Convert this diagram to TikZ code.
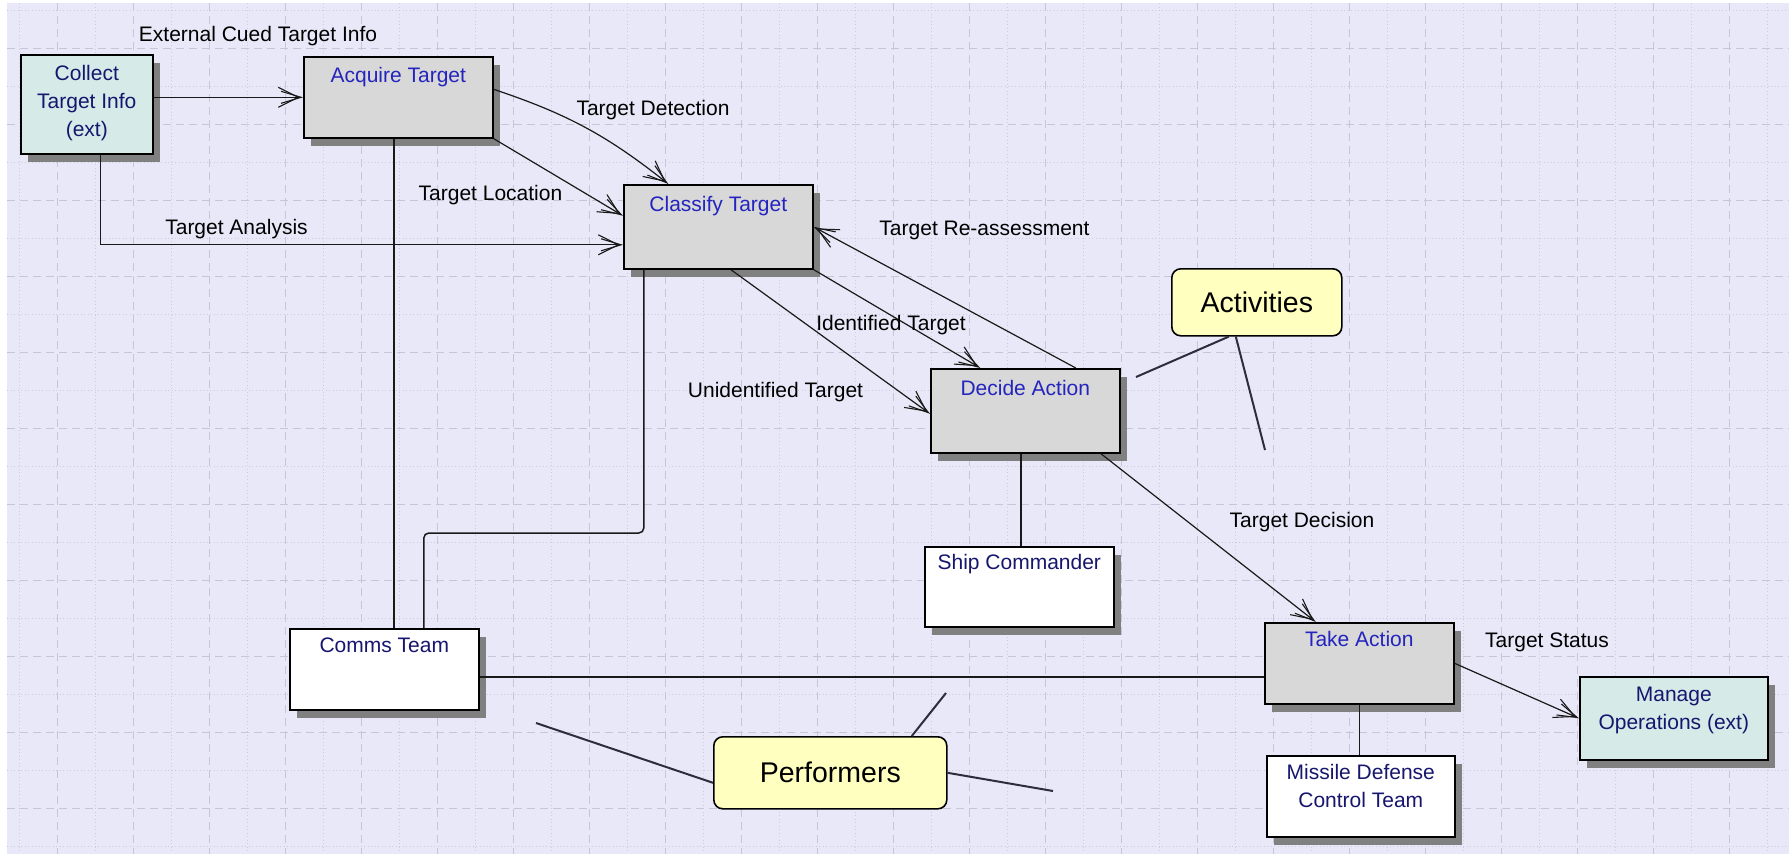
\documentclass[tikz,border=0pt]{standalone}
\usepackage{fontspec}
\setmainfont{Liberation Sans}
\usetikzlibrary{arrows.meta,shadows}
\definecolor{bg}{RGB}{232,232,248}
\definecolor{gridc}{RGB}{198,198,216}
\definecolor{gridd}{RGB}{204,204,222}
\definecolor{actfill}{RGB}{216,216,216}
\definecolor{extfill}{RGB}{214,234,232}
\definecolor{shadowc}{RGB}{128,128,128}
\definecolor{actblue}{RGB}{36,36,190}
\definecolor{navy}{RGB}{22,22,110}
\definecolor{callfill}{RGB}{255,255,192}
\definecolor{linec}{RGB}{25,25,25}
\definecolor{notec}{RGB}{45,45,60}
\newcommand{\fsz}{\fontsize{21}{28}\selectfont}
\newcommand{\bxt}[4]{\parbox[c][#2][t]{#1}{\centering\rule{0pt}{#3}#4\par}}
\tikzset{
  boxbase/.style={draw=black, line width=1.6pt, inner sep=0pt, anchor=north west, font=\fsz,
    drop shadow={shadow xshift=7pt, shadow yshift=-8pt, fill=shadowc, opacity=1}},
  actbox/.style={boxbase, fill=actfill, text=actblue},
  extbox/.style={boxbase, fill=extfill, text=navy},
  perfbox/.style={boxbase, fill=white, text=navy},
  callout/.style={draw=black, line width=1.6pt, fill=callfill, rounded corners=9pt,
    font=\fontsize{28.5}{34}\selectfont, anchor=north west, inner sep=0pt},
  lbl/.style={font=\fsz, text=black, anchor=base, inner sep=0pt},
  flow/.style={draw=linec, line width=1.2pt,
    -{Straight Barb[length=20pt,width=20pt,line width=1.1pt,sep=-19pt]Straight Barb[length=20pt,width=12pt,line width=1.1pt]}},
  assoc/.style={draw=linec, line width=1.5pt},
  noteline/.style={draw=notec, line width=2pt},
  gdash/.style={draw=gridc, line width=0.7pt, dash pattern=on 8pt off 5pt},
  gdot/.style={draw=gridd, line width=0.7pt, dash pattern=on 1pt off 2.5pt}
}
\begin{document}
\begin{tikzpicture}[x=1pt,y=-1pt]
\useasboundingbox (0,0) rectangle (1789,854);
\fill[white] (0,0) rectangle (1789,854);
\fill[bg] (7,3) rectangle (1789,854);
% grid
\foreach \x in {19,95,...,1789} \draw[gdot] (\x,3) -- (\x,854);
\foreach \x in {57,133,...,1789} \draw[gdash] (\x,3) -- (\x,854);
\foreach \y in {10,86,...,854} \draw[gdot] (7,\y) -- (1789,\y);
\foreach \y in {48,124,...,854} \draw[gdash] (7,\y) -- (1789,\y);

% boxes
\node[extbox] (collect) at (20,54) {\bxt{132pt}{99pt}{25.5pt}{Collect\\Target Info\\(ext)}};
\node[actbox] (acquire) at (303,56) {\bxt{189pt}{81pt}{25.5pt}{Acquire Target}};
\node[actbox] (classify) at (623,184) {\bxt{189pt}{84pt}{26.5pt}{Classify Target}};
\node[actbox] (decide) at (930,368) {\bxt{189pt}{84pt}{26.5pt}{Decide Action}};
\node[actbox] (take) at (1264,622) {\bxt{189pt}{81pt}{23.5pt}{Take Action}};
\node[extbox] (manage) at (1579,676) {\bxt{188pt}{83pt}{24.5pt}{Manage\\Operations (ext)}};
\node[perfbox] (missile) at (1266,755) {\bxt{188pt}{81pt}{23.5pt}{Missile Defense\\Control Team}};
\node[perfbox] (ship) at (924,546) {\bxt{189pt}{80pt}{22.5pt}{Ship Commander}};
\node[perfbox] (comms) at (289,628) {\bxt{189pt}{81pt}{23.5pt}{Comms Team}};

% callouts
\node[callout, minimum width=170pt, minimum height=67pt] (activities) at (1171,268) {Activities};
\node[callout, minimum width=233pt, minimum height=72pt] (performers) at (713,736) {Performers};

% associations
\draw[assoc] ([xshift=-4.5pt]acquire.south) -- ([xshift=-4.5pt]acquire.south |- comms.north);
\draw[assoc, rounded corners=5pt] ([xshift=-74.5pt]classify.south) |- ([xshift=39.5pt,yshift=95pt]comms.north) -- ([xshift=39.5pt]comms.north);
\draw[assoc] ([xshift=-4.5pt]decide.south) -- ([xshift=-4.5pt]decide.south |- ship.north);
\coordinate (ct) at ([yshift=-7.5pt]comms.east);
\draw[assoc] (ct) -- (ct -| take.west);
\draw[assoc] (take.south) -- (take.south |- missile.north);

% flows
\draw[flow] (collect.east |- acquire.west) -- (acquire.west);
\draw[flow] ([xshift=14pt]collect.south) |- ([yshift=-18pt]classify.west);
\draw[flow] ([yshift=8pt]acquire.east) to[bend left=10] ([xshift=-50pt]classify.north);
\draw[flow] (acquire.south east) -- ([yshift=11pt]classify.west);
\draw[flow] (classify.south east) -- ([xshift=-45pt]decide.north);
\draw[flow] ([xshift=12.5pt]classify.south) -- ([yshift=-3pt]decide.west);
\draw[flow] ([xshift=50.5pt]decide.north) -- (classify.east);
\draw[flow] ([xshift=75.5pt]decide.south) -- ([xshift=-43.5pt]take.north);
\draw[flow] (take.east) -- (manage.west);

% callout pointers
\coordinate (pa1) at (1136,377);
\coordinate (pa2) at (1265,450);
\coordinate (pp1) at (536,723);
\coordinate (pp2) at (946,693);
\coordinate (pp3) at (1053,791);
\draw[noteline] ([xshift=-28pt]activities.south) -- (pa1);
\draw[noteline] ([xshift=-21pt]activities.south) -- (pa2);
\draw[noteline] ([yshift=-10pt]performers.west) -- (pp1);
\draw[noteline] ([xshift=81.5pt]performers.north) -- (pp2);
\draw[noteline] (performers.east) -- (pp3);

% labels
\node[lbl] (lext) at (258,41.5) {External Cued Target Info};
\node[lbl] (ldet) at (653,115.5) {Target Detection};
\node[lbl] (lloc) at (490.5,200.5) {Target Location};
\node[lbl] (lana) at (236.5,234.5) {Target Analysis};
\node[lbl] (lre) at (984.5,235.5) {Target Re-assessment};
\node[lbl] (lid) at (891,330.5) {Identified Target};
\node[lbl] (lunid) at (775.5,397.5) {Unidentified Target};
\node[lbl] (ldec) at (1302,527.5) {Target Decision};
\node[lbl] (lstat) at (1547,647.5) {Target Status};
\end{tikzpicture}
\end{document}
